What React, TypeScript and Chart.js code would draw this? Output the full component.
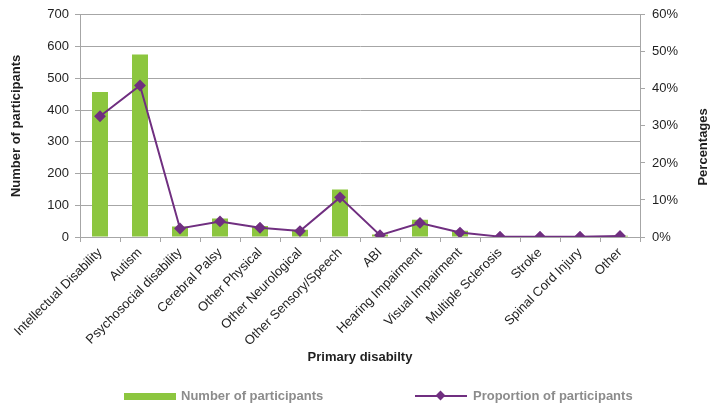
import React, { useEffect, useRef } from "react";
import { Chart, registerables } from "chart.js";

Chart.register(...registerables);

const categories = [
  "Intellectual Disability",
  "Autism",
  "Psychosocial disability",
  "Cerebral Palsy",
  "Other Physical",
  "Other Neurological",
  "Other Sensory/Speech",
  "ABI",
  "Hearing Impairment",
  "Visual Impairment",
  "Multiple Sclerosis",
  "Stroke",
  "Spinal Cord Injury",
  "Other",
];
const participants = [457, 575, 33, 58, 35, 23, 150, 8, 54, 20, 2, 2, 2, 4];
const proportions = [32.6, 40.9, 2.3, 4.2, 2.5, 1.6, 10.7, 0.5, 3.8, 1.2, 0.1, 0.1, 0.1, 0.3];

const FONT = "'Liberation Sans', Arial, sans-serif";
const GREEN = "#8CC63F";
const PURPLE = "#702F80";
const GRID = "#A6A6A6";
const TEXT = "#1F1F1F";
const LEGEND_TEXT = "#8C8C8C";

const rightTitlePlugin = {
  id: "rightTitle",
  afterDraw(chart: any) {
    const { ctx, chartArea } = chart;
    ctx.save();
    ctx.font = `bold 13px ${FONT}`;
    ctx.fillStyle = TEXT;
    ctx.textAlign = "center";
    ctx.textBaseline = "middle";
    ctx.translate(chartArea.right + 63, (chartArea.top + chartArea.bottom) / 2 + 21);
    ctx.rotate(-Math.PI / 2);
    ctx.fillText("Percentages", 0, 0);
    ctx.restore();
  },
};

export default function App() {
  const ref = useRef<HTMLCanvasElement>(null);

  useEffect(() => {
    if (!ref.current) return;
    const chart = new Chart(ref.current, {
      type: "bar",
      data: {
        labels: categories,
        datasets: [
          {
            type: "line",
            label: "Proportion of participants",
            data: proportions,
            yAxisID: "y1",
            borderColor: PURPLE,
            backgroundColor: PURPLE,
            borderWidth: 2,
            pointStyle: "rectRot",
            pointRadius: 4.5,
            pointBackgroundColor: PURPLE,
            pointBorderColor: PURPLE,
            tension: 0,
            order: 0,
          } as any,
          {
            type: "bar",
            label: "Number of participants",
            data: participants,
            yAxisID: "y",
            backgroundColor: GREEN,
            borderWidth: 0,
            barPercentage: 0.4,
            categoryPercentage: 1.0,
            order: 1,
          },
        ],
      },
      options: {
        animation: false,
        responsive: false,
        maintainAspectRatio: false,
        layout: { padding: { top: 13, bottom: 38, left: 0, right: 0 } },
        plugins: {
          legend: { display: false },
          tooltip: { enabled: false },
          title: { display: false },
        },
        scales: {
          x: {
            offset: true,
            grid: {
              display: true,
              offset: true,
              drawOnChartArea: false,
              drawTicks: true,
              tickLength: 5,
              color: GRID,
            },
            border: { display: true, color: GRID, width: 1 },
            ticks: {
              autoSkip: false,
              minRotation: 45,
              maxRotation: 45,
              padding: 3,
              color: TEXT,
              font: { family: FONT, size: 13 },
            },
            title: {
              display: true,
              text: "Primary disabilty",
              color: TEXT,
              font: { family: FONT, size: 13, weight: "bold" },
              padding: { top: 0, bottom: 5 },
            },
            afterFit(scale: any) {
              scale.height = 133;
            },
          },
          y: {
            position: "left",
            min: 0,
            max: 700,
            ticks: {
              stepSize: 100,
              padding: 6,
              color: TEXT,
              font: { family: FONT, size: 13 },
            },
            grid: { color: GRID, tickLength: 5, lineWidth: 1 },
            border: { display: true, color: GRID, width: 1 },
            title: {
              display: true,
              text: "Number of participants",
              color: TEXT,
              font: { family: FONT, size: 13, weight: "bold" },
              padding: { top: 9, bottom: 0 },
            },
            afterFit(scale: any) {
              scale.width = 80;
            },
          },
          y1: {
            position: "right",
            min: 0,
            max: 60,
            ticks: {
              stepSize: 10,
              padding: 7,
              color: TEXT,
              font: { family: FONT, size: 13 },
              callback: (v: any) => `${v}%`,
            },
            grid: { drawOnChartArea: false, color: GRID, tickLength: 5 },
            border: { display: true, color: GRID, width: 1 },
            afterFit(scale: any) {
              scale.width = 83;
            },
          },
        },
      },
      plugins: [rightTitlePlugin],
    });
    return () => chart.destroy();
  }, []);

  const legendText: React.CSSProperties = {
    position: "absolute",
    top: 388,
    font: `bold 13px ${FONT}`,
    color: LEGEND_TEXT,
    lineHeight: "16px",
    whiteSpace: "nowrap",
  };

  return (
    <div style={{ position: "absolute", left: 0, top: 0, width: 723, height: 408, background: "#fff", overflow: "hidden" }}>
      <canvas ref={ref} width={723} height={408} style={{ width: 723, height: 408, display: "block" }} />
      <div style={{ position: "absolute", left: 124, top: 393, width: 52, height: 7, background: GREEN }} />
      <div style={{ ...legendText, left: 181 }}>Number of participants</div>
      <div style={{ position: "absolute", left: 415, top: 395, width: 52, height: 2, background: PURPLE }} />
      <div
        style={{
          position: "absolute",
          left: 437,
          top: 392,
          width: 7,
          height: 7,
          background: PURPLE,
          transform: "rotate(45deg)",
        }}
      />
      <div style={{ ...legendText, left: 473 }}>Proportion of participants</div>
    </div>
  );
}
